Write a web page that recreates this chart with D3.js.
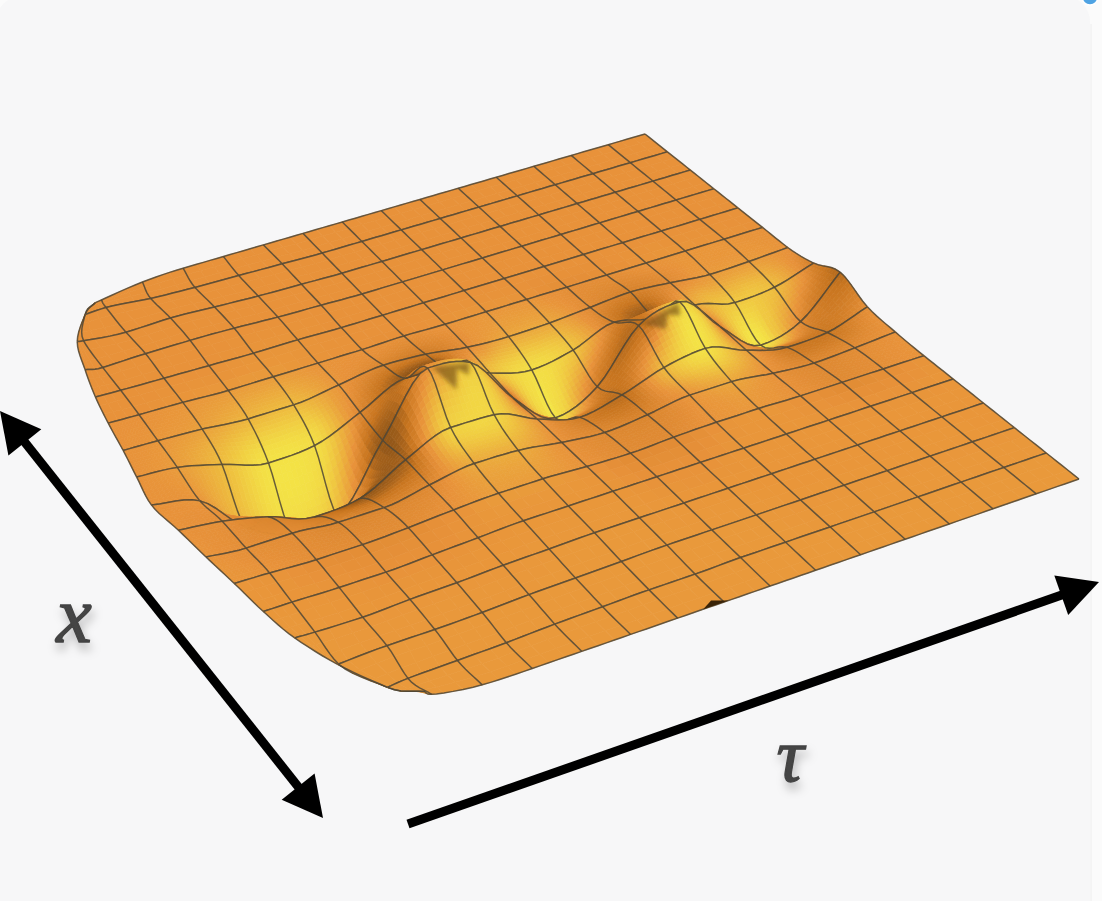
<!DOCTYPE html>
<html><head><meta charset="utf-8">
<script src="https://cdn.jsdelivr.net/npm/d3@7"></script>
<style>html,body{margin:0;padding:0;background:#fbfbfb;overflow:hidden}svg{display:block}</style>
</head><body><svg id="c" width="1102" height="901"></svg>
<script>
// ---- data --------------------------------------------------------------
const tauLines = d3.range(0,16);            // grid lines along tau
const xLines   = d3.range(0,17);            // grid lines along x
const edgeTau  = [.85,.2,-.39,-.61,-.78,-.9,-.98,-1.1,-1.2,-1.05,-.9,-.75,-.6,-.42,-.02,.5,.75]; // near boundary of the sheet, per x line
const tauWarp  = [-.2,-.2,-.15,-.1,-.05,0,0,0,0,0,0,0,0,0,0,0];
const xFade    = [0,1.5,1.2,1,1,1,1,1,.7,.5,.2,0,0,0,0,.4,.6];
// height of the sheet: one row per x line, first value = boundary, then tau 0..15
const height = [
[-9,-9,-8,-2,0,0,0,0,0,0,0,0,0,0,0,0,0],
[8,8,9,5,3,2,1,0,0,0,0,0,0,0,0,0,0],
[10,9,5,6,4,2,1,0,0,0,0,0,0,0,0,0,0],
[7,4,5,5,4,2,1,0,0,0,0,0,0,0,0,0,0],
[5,4,3,2,1,1,0,0,0,0,0,0,0,0,0,0,0],
[4,3,2,0,0,0,0,1,0,0,0,0,0,0,0,0,0],
[2,1,-1,-5,-5,1,7,5,-1,-3,-2,1,4,1,-3,-2,0],
[2,-1,-12,-25,-22,-3,17,14,-4,-14,-7,8,0,0,-10,-7,5],
[1,-10,-50,-70,-68,-7,51,43,-6,-39,-21,27,38,0,-31,-20,17],
[0,-5,-15,-30,-26,-2,16,15,-3,-15,-6,8,14,-1,-11,-9,4],
[-2,-6,-6,-10,-10,-2,5,4,-2,-6,-2,4,4,-1,-4,-2,1],
[-3,-4,-6,-6,-4,-1,1,1,-1,-2,0,1,1,0,0,0,0],
[-5,-5,-6,-6,-4,-2,0,0,0,0,0,0,0,0,0,0,0],
[-5,-6,-7,-5,-4,-2,-1,0,0,0,0,0,0,0,0,0,0],
[-8,-8,-6,-6,-5,-3,-2,-1,0,0,0,0,0,0,0,0,0],
[-9,-9,-7,-6,-5,-3,-2,-1,-1,0,0,0,0,0,0,0,0],
[14,14,9,1,0,0,0,0,0,0,0,0,0,0,0,0,0]];
// surface tone: -1 dark slope, 0 plain orange, 1 bright yellow
const tone = [
[0,0,0,0,0,0,0,0,0,0,0,0,0,0,0,0,0],
[0,0,0,0,0,0,0,0,0,0,0,0,0,0,0,0,0],
[0,0,0,0,0,0,0,0,0,0,0,0,0,0,0,0,0],
[0,0,0,0,0,0,0,0,0,0,0,0,0,0,0,0,0],
[0,0,0,0,.03,.03,0,0,0,0,0,0,0,0,0,0,0],
[0,0,.05,.1,.12,.03,0,-.03,.02,.06,.04,-.05,-.05,.02,.04,.03,0],
[0,.05,.18,.42,.48,.05,-.2,-.35,-.05,.25,.25,-.1,-.25,-.1,.1,.12,0],
[0,.12,.5,.95,.9,-.15,-.7,-.9,.45,.9,.6,-.3,-.7,.25,.65,.5,-.3],
[0,.05,.45,.8,.5,-.7,0,.6,-.4,.95,-.3,-.5,.8,-.2,1,-.1,-.55],
[0,-.05,-.2,-.35,-.7,-.6,.75,.8,.05,-.3,-.5,.45,.95,.15,-.35,-.4,-.05],
[.03,-.05,-.1,-.2,-.2,-.15,.28,.32,0,-.15,-.2,.05,.25,0,-.15,-.1,0],
[.05,.02,-.05,-.08,-.08,0,.12,.12,.02,-.1,-.1,.02,.07,0,-.1,-.05,.03],
[.06,.05,.03,0,0,.03,.06,.06,.05,0,0,.05,.05,.04,.03,.03,.05],
[.08,.08,.06,.06,.06,.06,.08,.08,.08,.06,.05,.05,.05,.05,.05,.05,.05],
[.08,.08,.08,.08,.08,.08,.08,.08,.08,.08,.08,.06,.06,.06,.06,.06,.06],
[.08,.08,.08,.08,.08,.08,.08,.08,.08,.08,.08,.08,.08,.08,.08,.08,.08],
[.08,.08,.08,.08,.08,.08,.08,.08,.08,.08,.08,.08,.08,.08,.08,.08,.08]];
// dark wedges under the crests, as [x line, tau] on the sheet
const crestDents = [
 [[8.02,5.1],[8.5,5.4],[8.18,5.58],[8.32,5.78],[8.02,5.95]],
 [[8.02,10.05],[8.42,10.4],[8.2,10.58],[8.32,10.82],[8.02,10.95]]];
// small dark nick on the front edge, as [tau, x, height]
const frontNick = [[6.55,16,0],[6.72,16,6],[7.1,16,0]];
const axisLabels = ["x","τ"];
// ---- drawing -------------------------------------------------------------
const svg = d3.select("#c");
const defs = svg.append("defs");
const sh = defs.append("filter").attr("id","ts").attr("x","-50%").attr("y","-50%").attr("width","200%").attr("height","200%");
sh.append("feDropShadow").attr("dx",2).attr("dy",7).attr("stdDeviation",5).attr("flood-color","#000").attr("flood-opacity",.25);
const soft=defs.append("filter").attr("id","soft").attr("x","-40%").attr("y","-40%").attr("width","180%").attr("height","180%");
soft.append("feGaussianBlur").attr("stdDeviation",2.2);

svg.append("rect").attr("x",-4).attr("y",-4).attr("width",1094).attr("height",960).attr("rx",26).attr("fill","#f7f7f8");
svg.append("line").attr("x1",1091).attr("x2",1091).attr("y1",24).attr("y2",901).attr("stroke","#eeeeee").attr("stroke-width",1);
svg.append("circle").attr("cx",1090).attr("cy",-3).attr("r",8).attr("fill","#4fa3e3").attr("stroke","#fff").attr("stroke-width",1.5);

// floor projection: homography of the (tau,x) square on to the page
const sTau = d3.scaleLinear().domain([0,15]).range([0,1]);
const sX   = d3.scaleLinear().domain([0,16]).range([0,1]);
const C = [[60,304],[645,134],[1079,479],[388,718.5]];
const dx1=C[1][0]-C[2][0],dx2=C[3][0]-C[2][0],dx3=C[0][0]-C[1][0]+C[2][0]-C[3][0];
const dy1=C[1][1]-C[2][1],dy2=C[3][1]-C[2][1],dy3=C[0][1]-C[1][1]+C[2][1]-C[3][1];
const den=dx1*dy2-dx2*dy1;
const g=(dx3*dy2-dx2*dy3)/den,h=(dx1*dy3-dx3*dy1)/den;
const a=C[1][0]-C[0][0]+g*C[1][0],b=C[3][0]-C[0][0]+h*C[3][0];
const d=C[1][1]-C[0][1]+g*C[1][1],e=C[3][1]-C[0][1]+h*C[3][1];
function project(u,v,z){
  const s=sTau(u),t=sX(v),w=g*s+h*t+1;
  return [(a*s+b*t+C[0][0])/w,(d*s+e*t+C[0][1])/w-z];
}
const tauAt = xLines.map(r=>[edgeTau[r]].concat(tauLines.map(u=>Math.max(u+tauWarp[u]*xFade[r],edgeTau[r]))));
const rows=xLines.length, cols=tauLines.length+1;
// cubic through neighbouring readings; "strict" never overshoots, otherwise extremes keep a little slope
const slope=(p0,p1,p2,strict)=>{const a=p1-p0,b=p2-p1,m=(a+b)/2;
  if(!strict) return a*b<=0 ? m*.5 : Math.sign(m)*Math.min(Math.abs(m),3*Math.min(Math.abs(a),Math.abs(b)));
  if(a*b<=0) return 0;
  return Math.sign(m)*Math.min(Math.abs(m),3*Math.min(Math.abs(a),Math.abs(b)));};
const herm=(p0,p1,p2,p3,t,strict)=>{const m1=slope(p0,p1,p2,strict),m2=slope(p1,p2,p3,strict),t2=t*t,t3=t2*t;
  return (2*t3-3*t2+1)*p1+(t3-2*t2+t)*m1+(-2*t3+3*t2)*p2+(t3-t2)*m2;};
const at=(A,i)=>i<0?2*A[0]-A[1]:i>=A.length?2*A[A.length-1]-A[A.length-2]:A[i];
function bic(M,r,c,strictC){
  const r0=Math.min(Math.floor(r),rows-2),c0=Math.min(Math.floor(c),cols-2),tr=r-r0,tc=c-c0;
  const along=R=>herm(at(R,c0-1),R[c0],R[c0+1],at(R,c0+2),tc,strictC);
  const q=d3.range(Math.max(0,r0-1),Math.min(rows,r0+3)).map(i=>[i,along(M[i])]);
  const val=new Map(q);
  const Q=[...q.map(p=>p[1])], base=q[0][0];
  return herm(at(Q,r0-1-base),val.get(r0),val.get(r0+1),at(Q,r0+2-base),tr,false);
}
const point=(r,c)=>project(bic(tauAt,r,c,true),r,bic(height,r,c,true));
const color=d3.scaleLinear().domain([-1,-.45,0,.5,1]).range(["#5a3712","#c8751f","#e8923a","#eebb3e","#f4e546"]).clamp(true);
const line=d3.line(), lineCol="#4f4636", LW=1.5, LO=.85, NL=6;
const surf=svg.append("g");
for(let r=0;r<rows-1;r++){
  const N=(r>=5&&r<=10)?10:3;
  const strip=surf.append("g");
  const quads=[];
  for(let c=0;c<cols-1;c++)for(let i=0;i<N;i++)for(let j=0;j<N;j++){
    const R=r+i/N,K=c+j/N,R2=r+(i+1)/N,K2=c+(j+1)/N;
    quads.push({p:[point(R,K),point(R,K2),point(R2,K2),point(R2,K)],t:bic(tone,R+.5/N,K+.5/N,false)});
  }
  strip.selectAll("path.f").data(quads).join("path").attr("class","f")
    .attr("d",q=>line(q.p)+"Z").attr("fill",q=>color(q.t)).attr("stroke",q=>color(q.t)).attr("stroke-width",.7);
  if(r===8){
    strip.selectAll("path.dent").data(crestDents).join("path").attr("class","dent")
      .attr("d",D=>line(D.map(p=>point(p[0],p[1]+1)))+"Z")
      .attr("fill","#6e4a12").attr("fill-opacity",.62).attr("filter","url(#soft)");
  }
  const segs=d3.range(0,cols).map(c=>d3.range(0,NL+1).map(i=>point(r+i/NL,c)));
  strip.selectAll("path.u").data(segs).join("path").attr("class","u").attr("d",line)
    .attr("fill","none").attr("stroke",lineCol).attr("stroke-width",LW).attr("stroke-opacity",LO).attr("stroke-linejoin","round");
  [r,r+1].forEach(R=>{
    strip.append("path").attr("d",line(d3.range(0,(cols-1)*NL+1).map(i=>point(R,i/NL))))
      .attr("fill","none").attr("stroke",lineCol).attr("stroke-width",LW).attr("stroke-opacity",LO).attr("stroke-linejoin","round");
  });
}
svg.append("path").attr("d",line(frontNick.map(p=>project(p[0],p[1],p[2])))+"Z").attr("fill","#3a2408");
// arrows
function arrow(from,to,heads){
  const ang=Math.atan2(to[1]-from[1],to[0]-from[0]);
  const L=40,W=21;
  const head=(tip,dir)=>{const bx=tip[0]-dir*L*Math.cos(ang),by=tip[1]-dir*L*Math.sin(ang),
    nx=-Math.sin(ang)*W,ny=Math.cos(ang)*W;return [tip,[bx+nx,by+ny],[bx-nx,by-ny]];};
  const f=heads[0]?[from[0]+L*.8*Math.cos(ang),from[1]+L*.8*Math.sin(ang)]:from;
  const t=heads[1]?[to[0]-L*.8*Math.cos(ang),to[1]-L*.8*Math.sin(ang)]:to;
  svg.append("line").attr("x1",f[0]).attr("y1",f[1]).attr("x2",t[0]).attr("y2",t[1]).attr("stroke","#000").attr("stroke-width",9);
  if(heads[0])svg.append("path").attr("d",line(head(from,-1))+"Z").attr("fill","#000");
  if(heads[1])svg.append("path").attr("d",line(head(to,1))+"Z").attr("fill","#000");
}
arrow([0,411],[323,818],[true,true]);
arrow([408,824],[1099,582],[false,true]);
svg.selectAll("text.lab").data(axisLabels).join("text").attr("class","lab")
  .attr("x",(d,i)=>[74,790][i]).attr("y",(d,i)=>[642,781][i]).attr("text-anchor","middle")
  .attr("font-family","'Liberation Serif',serif").attr("font-style","italic")
  .attr("font-size",(d,i)=>[80,76][i]).attr("fill","#444").attr("stroke","#444").attr("stroke-width",1.4)
  .attr("filter","url(#ts)").text(d=>d);
</script></body></html>
